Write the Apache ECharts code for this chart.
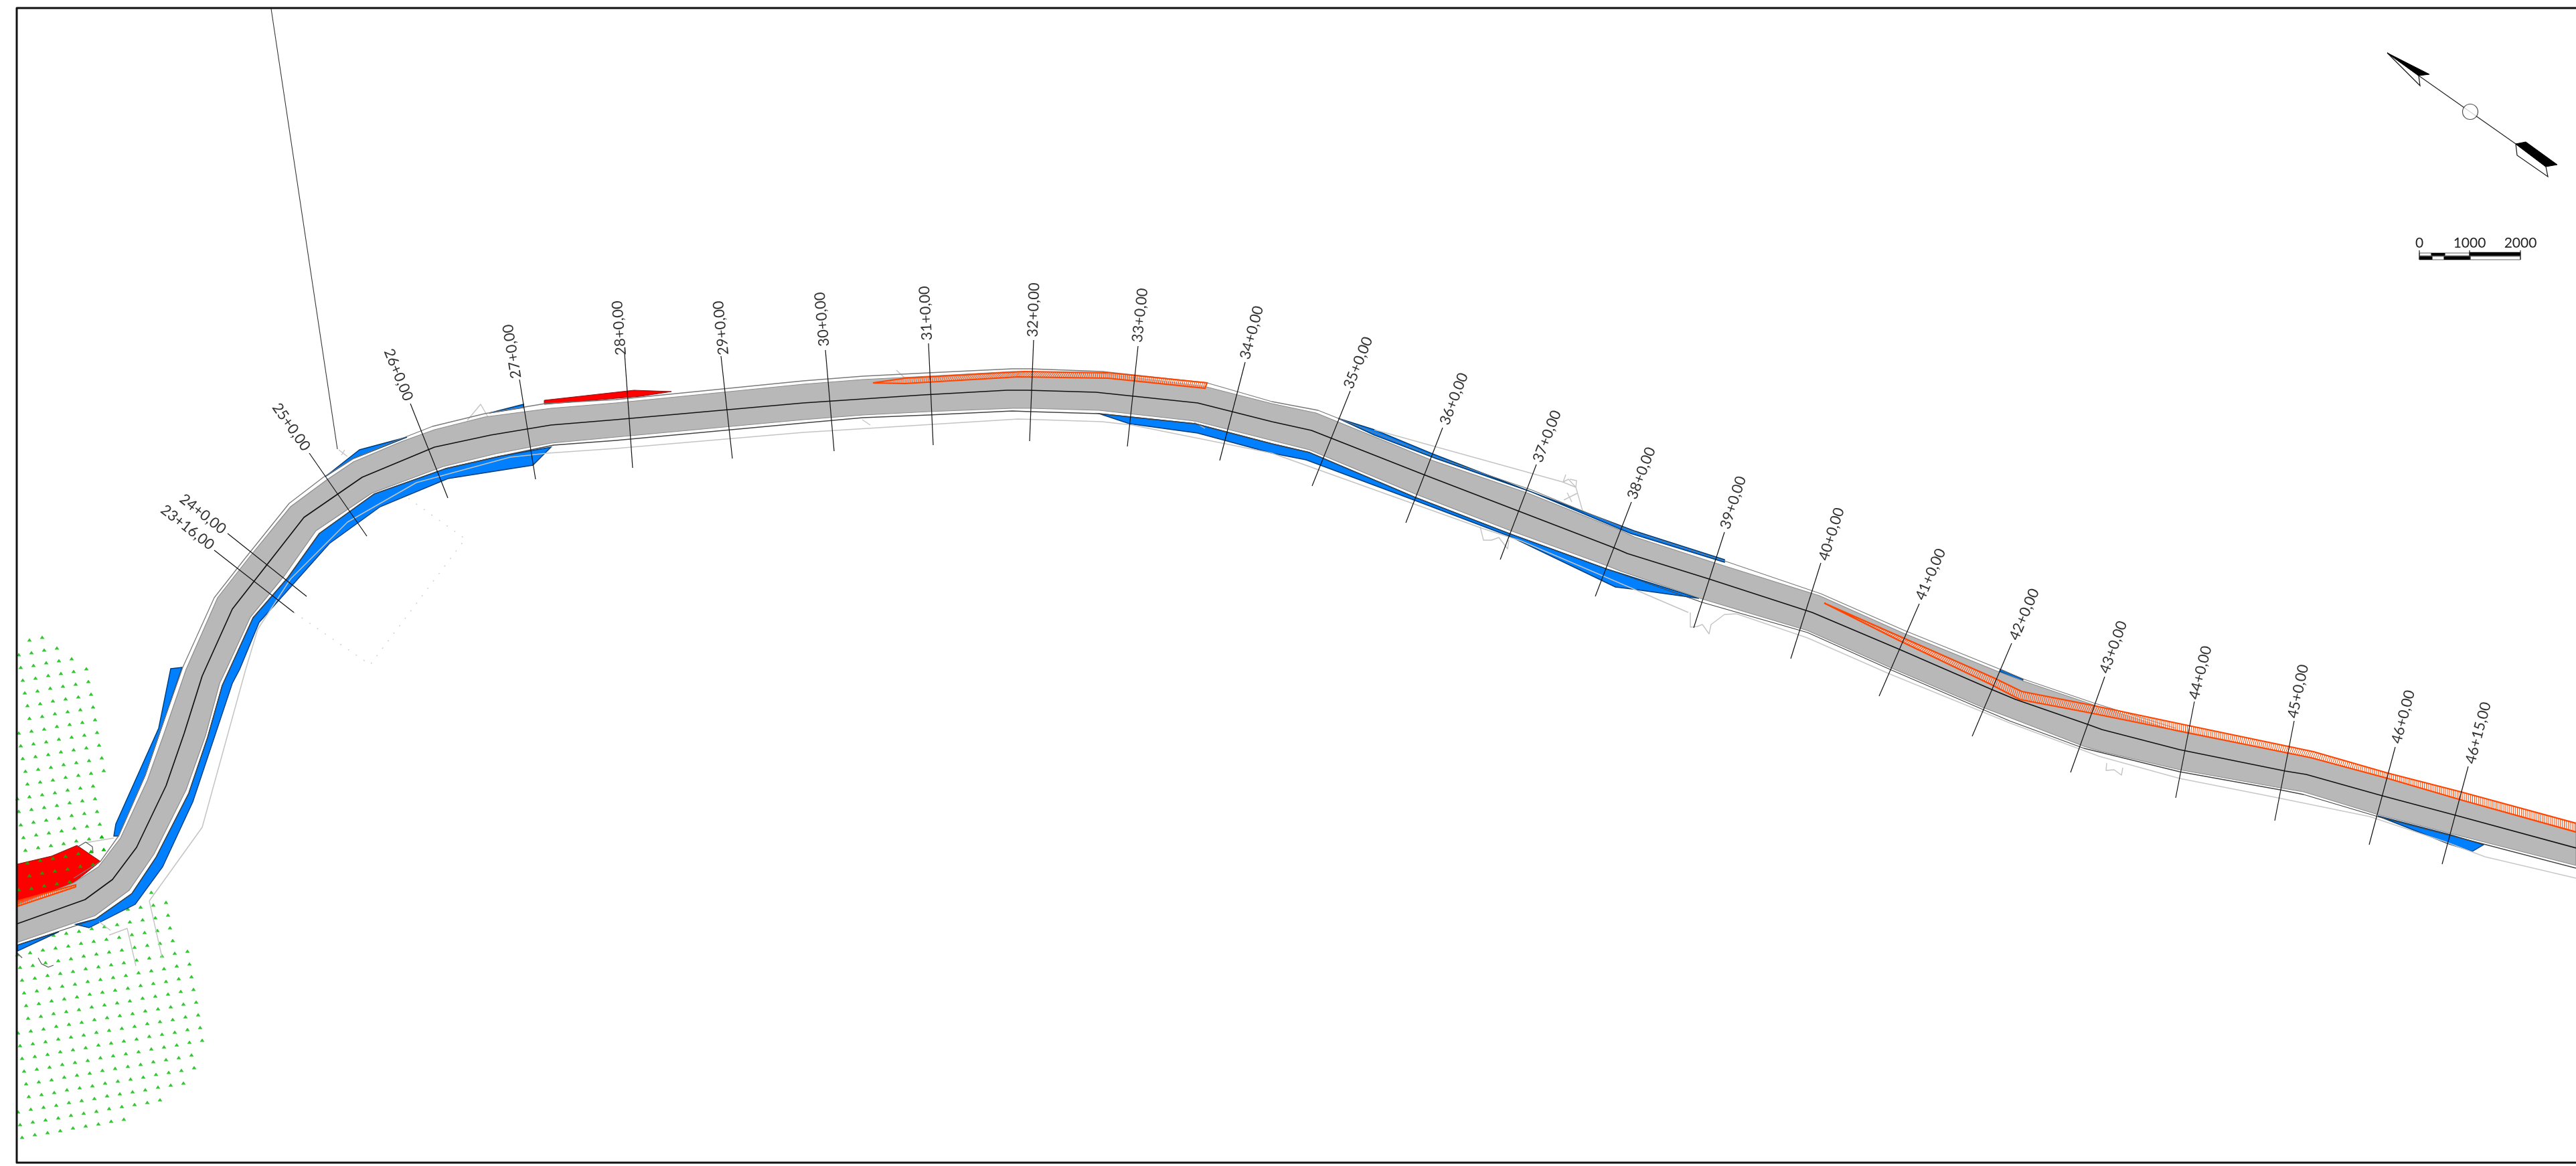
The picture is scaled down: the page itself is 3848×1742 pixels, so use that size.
<!DOCTYPE html>
<html><head><meta charset="utf-8">
<style>html,body{margin:0;padding:0;background:#fff}#c{width:3848px;height:1742px}</style>
<script src="https://cdn.jsdelivr.net/npm/echarts@6/dist/echarts.min.js"></script>
</head><body><div id="c"></div>
<script>
const centerLine=[[26,1380],[127,1344],[168,1314],[204,1266],[248,1174],[275,1096],[302,1010],[347,910],[454,773],[541,713],[649,668],[733,650],[823,635],[920,627],[1200,602],[1379,590],[1504,583],[1535,583],[1637,586],[1789,602],[1900,630],[1959,643],[2124,708],[2267,763],[2410,818],[2431,827],[2553,865],[2707,915],[2837,970],[2975,1030],[3011,1045],[3118,1082],[3140,1090],[3256,1120],[3414,1152],[3445,1157],[3559,1189],[3668,1218],[3848,1267]];
const roadUpper=[[26,1352],[110,1319],[147,1295],[180,1252],[220,1166],[245,1096],[278,1000],[325,893],[372,833],[434,757],[488,717],[528,690],[599,660],[649,642],[724,623],[823,610],[920,602],[1200,574],[1289,567],[1387,562],[1512,555],[1539,555],[1646,558],[1798,577],[1900,603],[1966,617],[2140,688],[2283,737],[2420,792],[2441,802],[2568,843],[2718,890],[2841,945],[2984,1003],[3024,1018],[3127,1053],[3250,1092],[3452,1132],[3567,1163],[3676,1195],[3848,1243]];
const roadLower=[[26,1408],[142,1368],[193,1330],[230,1276],[278,1180],[307,1099],[328,1021],[338,1000],[374,922],[425,860],[472,793],[555,737],[662,697],[740,678],[823,662],[920,653],[1200,627],[1289,620],[1387,615],[1512,610],[1539,610],[1642,613],[1785,629],[1900,658],[1956,672],[2114,738],[2257,793],[2400,845],[2420,853],[2543,895],[2700,942],[2823,997],[2962,1057],[3002,1072],[3113,1115],[3136,1122],[3256,1150],[3406,1177],[3441,1183],[3552,1217],[3660,1245],[3848,1293]];
const outerUpper=[[110,1312],[150,1287],[177,1249],[217,1158],[242,1085],[273,997],[320,893],[367,833],[432,752],[483,713],[528,685],[595,657],[646,637],[724,618],[814,603],[920,597],[1200,569],[1289,562],[1387,557],[1512,551],[1539,551],[1646,555],[1803,572],[1900,600],[1969,613],[2145,683],[2288,732],[2436,793],[2576,838],[2720,887],[2845,942],[2988,1000],[3024,1015],[3127,1050],[3250,1088]];
const outerLower=[[26,1412],[143,1373],[197,1335],[233,1281],[282,1185],[310,1102],[332,1024],[343,1000],[378,923],[430,863],[477,797],[559,738],[666,700],[745,682],[827,665],[920,658],[1200,632],[1289,624],[1387,620],[1512,614],[1539,615],[1642,618],[1785,633],[1900,663],[1956,676],[2114,743],[2257,798],[2400,850],[2543,900],[2700,945],[2823,1000],[2962,1060],[3002,1077],[3113,1118],[3256,1153],[3406,1180],[3441,1187],[3552,1220],[3660,1248],[3848,1297]];
const propertyLine=[[223,1346],[302,1236],[367,1000],[385,940],[434,865],[519,780],[622,721],[762,683],[818,677],[920,670],[1200,646],[1521,626],[1646,630],[1691,635],[1900,677],[2216,790],[2272,808],[2522,915]];
const propertyLine2=[[2594,917],[2700,953],[2823,1007],[3002,1080],[3136,1130],[3256,1163],[3403,1192],[3540,1220],[3651,1257],[3712,1280],[3848,1312]];
const lightMarks=[
[[2053,642],[2334,720],[2354,728],[2364,763]],
[[2339,709],[2335,720],[2343,716],[2354,728],[2355,718],[2345,716]],
[[2341,736],[2348,750]],[[2336,747],[2356,737]],
[[2211,787],[2216,807],[2228,807],[2239,803],[2252,820],[2254,807]],
[[2525,915],[2525,937],[2535,936],[2543,933],[2553,947],[2556,933],[2576,918],[2594,917]],
[[3147,1140],[3146,1151],[3158,1150],[3169,1158],[3171,1147]],
[[506,672],[519,682]],[[510,680],[515,672]],
[[698,628],[718,604],[729,623]],
[[128,1259],[170,1252]],
[[163,1397],[190,1387],[203,1443]],
[[223,1346],[242,1430]],
[[148,1377],[165,1390]],
[[1339,553],[1352,565]],[[1288,627],[1300,635]],[[1783,630],[1800,640]]
];
const dottedBox=[[439,915],[553,993],[695,805],[608,743]];
const darkArcs=[
[[115,1266],[128,1258],[138,1265],[139,1274]],
[[57,1431],[62,1440],[72,1445],[80,1442]],
[[26,1424],[33,1431]]
];
const leader=[[405,13],[504,671]];
const blueShapes=[
[[26,1412],[88,1392],[26,1421]],
[[113,1381],[143,1373],[197,1335],[233,1281],[282,1185],[310,1102],[332,1024],[343,1000],[378,923],[430,863],[477,797],[559,738],[666,700],[745,682],[823,668],[796,695],[669,715],[568,757],[492,812],[387,930],[358,1000],[347,1021],[288,1198],[243,1295],[202,1351],[133,1386]],
[[255,999],[272,997],[242,1085],[217,1158],[177,1249],[170,1249],[173,1231],[237,1088]],
[[486,712],[537,672],[608,653],[528,685]],
[[731,617],[782,604],[782,609]],
[[1642,618],[1687,633],[1789,647],[1900,677],[1951,687],[2112,747],[2257,802],[2413,877],[2438,880],[2538,894],[2400,850],[2257,798],[2114,743],[1956,676],[1900,663],[1785,633]],
[[1999,625],[2053,642],[2140,678],[2280,732],[2441,793],[2576,836],[2576,840],[2436,797],[2288,735],[2145,685],[2053,650]],
[[3552,1219],[3656,1260],[3693,1272],[3710,1262],[3660,1247]],
[[2988,1000],[3022,1015],[3021,1018],[2987,1003]]
];
const redShapes=[
[[26,1291],[77,1279],[115,1263],[150,1287],[110,1319],[26,1352]],
[[813,598],[947,583],[1003,585],[957,592],[813,604]]
];
const stripTops=[
[[1304,572],[1352,565],[1530,555],[1655,557],[1803,572]],
[[2725,901],[2843,953],[2979,1013],[3020,1033],[3127,1054],[3250,1080],[3456,1123],[3567,1155],[3676,1183],[3848,1230]],
[[26,1346],[113,1322]]
];
const stripBottoms=[
[[1304,572],[1352,573],[1521,563],[1655,565],[1800,580]],
[[2725,901],[2837,957],[2975,1023],[3017,1045],[3122,1065],[3250,1091],[3452,1132],[3567,1163],[3676,1195],[3848,1243]],
[[26,1354],[113,1325]]
];
const stationNames=['23+16,00','24+0,00','25+0,00','26+0,00','27+0,00','28+0,00','29+0,00','30+0,00','31+0,00','32+0,00','33+0,00','34+0,00','35+0,00','36+0,00','37+0,00','38+0,00','39+0,00','40+0,00','41+0,00','42+0,00','43+0,00','44+0,00','45+0,00','46+0,00','46+15,00'];
const stationTop=[[320,822],[340,797],[462,677],[613,603],[776,567],[933,528],[1077,532],[1233,523],[1387,513],[1544,508],[1700,517],[1860,541],[2017,584],[2155,639],[2295,694],[2437,750],[2576,795],[2720,841],[2867,902],[3005,961],[3144,1011],[3278,1048],[3427,1077],[3578,1116],[3687,1145]];
const stationBottom=[[439,915],[458,891],[548,801],[669,744],[800,716],[945,699],[1094,685],[1246,674],[1394,665],[1538,659],[1684,667],[1822,688],[1960,726],[2100,781],[2241,836],[2383,891],[2530,938],[2675,984],[2807,1040],[2946,1100],[3093,1154],[3250,1192],[3398,1226],[3539,1262],[3648,1291]];
const labelAt=[[280,788],[303,768],[435,638],[595,560],[765,525],[925,490],[1077,490],[1228,477],[1383,468],[1544,463],[1703,471],[1870,497],[2029,542],[2172,596],[2311,652],[2452,707],[2589,751],[2736,798],[2884,858],[3024,918],[3157,967],[3287,1005],[3433,1033],[3590,1071],[3702,1095]];
const labelAngle=[-38,-38.5,-55,-68,99,94,96,95,93,88,84,75,68,69,69,69,72,72.5,66.5,67,70,76,78,75,75];
const greenUpper=[[44,956],[63,952],[28,978],[47,975],[66,971],[85,968],[31,997],[50,994],[69,990],[88,987],[107,984],[34,1016],[53,1013],[72,1009],[91,1006],[110,1003],[129,999],[37,1035],[56,1032],[75,1028],[94,1025],[113,1022],[132,1018],[41,1054],[60,1051],[79,1047],[98,1044],[117,1041],[136,1037],[44,1073],[63,1070],[82,1066],[101,1063],[120,1060],[139,1056],[28,1095],[47,1092],[66,1089],[85,1085],[104,1082],[123,1079],[142,1075],[31,1114],[50,1111],[69,1108],[88,1104],[107,1101],[126,1098],[145,1094],[34,1133],[53,1130],[72,1127],[91,1123],[110,1120],[129,1117],[148,1113],[38,1152],[57,1149],[76,1146],[95,1142],[114,1139],[133,1136],[152,1132],[41,1171],[60,1168],[79,1165],[98,1161],[117,1158],[136,1155],[155,1151],[26,1193],[44,1190],[63,1187],[82,1184],[101,1180],[120,1177],[139,1174],[28,1212],[47,1209],[66,1206],[85,1203],[104,1199],[123,1196],[142,1193],[31,1232],[50,1228],[69,1225],[88,1222],[107,1218],[126,1215],[145,1212],[35,1251],[54,1247],[73,1244],[92,1241],[111,1237],[130,1234],[149,1231],[38,1270],[57,1266],[76,1263],[95,1260],[114,1256],[133,1253],[152,1250],[41,1289],[60,1285],[79,1282],[98,1279],[117,1275],[136,1272],[155,1269],[44,1308],[63,1304],[82,1301],[101,1298],[120,1294],[139,1291],[28,1329],[47,1327],[66,1323],[85,1320],[104,1317],[123,1313],[142,1310],[31,1349],[51,1345],[70,1342],[89,1338]];
const greenLower=[[223,1314],[207,1336],[226,1333],[172,1362],[191,1358],[210,1355],[229,1352],[248,1348],[80,1397],[99,1394],[118,1391],[137,1387],[156,1384],[175,1381],[194,1377],[213,1374],[232,1371],[251,1367],[26,1426],[45,1423],[64,1419],[83,1416],[102,1413],[121,1409],[140,1406],[159,1403],[178,1400],[197,1396],[216,1393],[235,1390],[254,1386],[30,1445],[49,1442],[68,1438],[87,1435],[106,1432],[125,1428],[144,1425],[163,1422],[182,1419],[201,1415],[220,1412],[239,1409],[258,1405],[33,1464],[52,1461],[71,1457],[90,1454],[109,1451],[128,1447],[147,1444],[166,1441],[185,1438],[204,1434],[223,1431],[242,1428],[261,1424],[280,1421],[36,1483],[55,1480],[74,1476],[93,1473],[112,1470],[131,1466],[150,1463],[169,1460],[188,1457],[207,1453],[226,1450],[245,1447],[264,1443],[283,1440],[39,1502],[58,1499],[77,1495],[96,1492],[115,1489],[134,1485],[153,1482],[172,1479],[191,1476],[210,1472],[229,1469],[248,1466],[267,1462],[286,1459],[42,1521],[61,1518],[80,1514],[99,1511],[118,1508],[137,1504],[156,1501],[175,1498],[194,1495],[213,1491],[232,1488],[251,1485],[270,1481],[289,1478],[27,1543],[46,1540],[65,1537],[84,1533],[103,1530],[122,1527],[141,1523],[160,1520],[179,1517],[198,1514],[217,1510],[236,1507],[255,1504],[274,1500],[293,1497],[30,1562],[49,1559],[68,1556],[87,1552],[106,1549],[125,1546],[144,1542],[163,1539],[182,1536],[201,1533],[220,1529],[239,1526],[258,1523],[277,1519],[296,1516],[33,1581],[52,1578],[71,1575],[90,1571],[109,1568],[128,1565],[147,1561],[166,1558],[185,1555],[204,1552],[223,1548],[242,1545],[261,1542],[280,1538],[299,1535],[36,1600],[55,1597],[74,1594],[93,1590],[112,1587],[131,1584],[150,1580],[169,1577],[188,1574],[207,1571],[226,1567],[245,1564],[264,1561],[283,1557],[302,1554],[39,1619],[58,1616],[77,1613],[96,1609],[115,1606],[134,1603],[153,1599],[172,1596],[191,1593],[210,1590],[229,1586],[248,1583],[267,1580],[286,1576],[43,1638],[62,1635],[81,1632],[100,1628],[119,1625],[138,1622],[157,1618],[176,1615],[195,1612],[214,1609],[233,1605],[252,1602],[271,1599],[290,1595],[27,1661],[46,1657],[65,1654],[84,1651],[103,1647],[122,1644],[141,1641],[160,1637],[179,1634],[198,1631],[217,1628],[236,1624],[255,1621],[274,1618],[30,1680],[49,1676],[68,1673],[87,1670],[106,1666],[125,1663],[144,1660],[163,1656],[182,1653],[201,1650],[220,1647],[239,1643],[33,1699],[52,1695],[71,1692],[90,1689],[109,1685],[128,1682],[147,1679],[166,1675],[185,1672]];
const northBlack=[[[3566,79],[3629,111],[3613,113]],[[3758,215],[3773,212],[3820,246],[3803,249]]];
const northWhite=[[[3566,79],[3613,113],[3615,128]],[[3758,215],[3803,249],[3806,264],[3760,232]]];
const northStem=[[3613,113],[3758,215]];
const northHub=[[3690,167]];
const scaleTicks=[3614,3689,3765];
const scaleNames=['0','1000','2000'];
const scaleBlack=[[[3632,378],[3652,382]],[[3689,377],[3765,382]],[[3614,383],[3633,388]],[[3651,383],[3690,388]]];
const scaleWhite=[[[3614,378],[3632,382]],[[3652,378],[3689,382]],[[3633,383],[3651,388]],[[3690,383],[3765,388]]];
const frame=[[3848,12],[25,12],[25,1737],[3848,1737]];

const GRAY='#b8b8b8',BLUE='#0080ff',RED='#ff0000',ORANGE='#ff4500';
let zi=1;
const series=[];
function poly(pts,fill,stroke,lw){
  series.push({type:'custom',coordinateSystem:'cartesian2d',silent:true,z:zi++,clip:true,animation:false,
    data:pts,renderItem:(p,api)=>{
      if(p.dataIndex!==0)return null;
      return {type:'polygon',shape:{points:pts.map(q=>api.coord(q))},style:{fill:fill,stroke:stroke||null,lineWidth:lw||0}};
    }});
}
function line(pts,color,w,type){
  series.push({type:'line',data:pts,showSymbol:false,symbol:'none',z:zi++,silent:true,animation:false,clip:true,
    lineStyle:{color:color,width:w,type:type||'solid',cap:'butt',join:'round'}});
}
function strip(top,bot){
  series.push({type:'custom',coordinateSystem:'cartesian2d',silent:true,z:zi++,clip:true,animation:false,data:top,
    renderItem:(p,api)=>{
      if(p.dataIndex!==0)return null;
      const T=top.map(q=>api.coord(q)),B=bot.map(q=>api.coord(q)),kids=[];
      kids.push({type:'polygon',shape:{points:T.concat(B.slice().reverse())},style:{fill:'#ffffff',opacity:0.3,stroke:null}});
      for(let i=0;i<T.length-1;i++){
        const L=Math.hypot(T[i+1][0]-T[i][0],T[i+1][1]-T[i][1]),n=Math.max(1,Math.round(L/3));
        for(let k=0;k<n;k++){const t=k/n;
          kids.push({type:'line',shape:{x1:T[i][0]+(T[i+1][0]-T[i][0])*t,y1:T[i][1]+(T[i+1][1]-T[i][1])*t,x2:B[i][0]+(B[i+1][0]-B[i][0])*t,y2:B[i][1]+(B[i+1][1]-B[i][1])*t},style:{stroke:ORANGE,lineWidth:1}});
        }
      }
      kids.push({type:'polygon',shape:{points:T.concat(B.slice().reverse())},style:{fill:'none',stroke:ORANGE,lineWidth:2.2}});
      return {type:'group',children:kids};
    }});
}
function texts(names,at,ang,size,color){
  series.push({type:'custom',coordinateSystem:'cartesian2d',silent:true,z:zi++,clip:false,animation:false,data:at,
    renderItem:(p,api)=>{
      const c=api.coord(at[p.dataIndex]);
      return {type:'text',x:c[0],y:c[1],rotation:(ang?ang[p.dataIndex]:0)*Math.PI/180,
        style:{text:names[p.dataIndex],fill:color,fontFamily:'Lato',fontWeight:400,fontSize:size,textAlign:'center',textVerticalAlign:'middle'}};
    }});
}
series.push({type:'scatter',data:greenUpper.concat(greenLower),symbol:'triangle',symbolSize:[7,5],itemStyle:{color:'#00b800'},z:zi++,silent:true,animation:false});
redShapes.forEach(s=>poly(s,RED,'#8a1010',1));
series.push({type:'scatter',data:greenUpper.slice(-25),symbol:'triangle',symbolSize:[7,5],itemStyle:{color:'#00b800'},z:zi++,silent:true,animation:false});
blueShapes.forEach(s=>poly(s,BLUE,'#003c78',1.4));
line(propertyLine,'#c4c4c4',1.5);
line(propertyLine2,'#c8c8c8',1.5);
lightMarks.forEach(m=>line(m,'#c4c4c4',1.4));
line(dottedBox,'#d0d0d0',1.5,[2,12]);
darkArcs.forEach(m=>line(m,'#555',1.2));
line(outerUpper,'#7a7a7a',1.3);
line(outerLower,'#444',1.3);
poly(roadUpper.concat(roadLower.slice().reverse()),GRAY,'#8c8c8c',1.2);
stripTops.forEach((t,i)=>strip(t,stripBottoms[i]));
line(centerLine,'#111',1.7);
stationTop.forEach((t,i)=>line([t,stationBottom[i]],'#111',1.2));
line(leader,'#333',1.1);
texts(stationNames,labelAt,labelAngle,22,'#333');
northWhite.forEach(s=>poly(s,'#fff','#111',1.2));
northBlack.forEach(s=>poly(s,'#000','#000',1));
line(northStem,'#222',1.2);
series.push({type:'scatter',data:northHub,symbol:'circle',symbolSize:23,itemStyle:{color:'#fff',borderColor:'#222',borderWidth:1.2},z:zi++,silent:true,animation:false});
scaleWhite.forEach(r=>poly([r[0],[r[1][0],r[0][1]],r[1],[r[0][0],r[1][1]]],'#fff','#333',0.8));
scaleBlack.forEach(r=>poly([r[0],[r[1][0],r[0][1]],r[1],[r[0][0],r[1][1]]],'#000','#000',0.6));
scaleTicks.forEach(x=>line([[x,374],[x,388]],'#222',1.2));
texts(scaleNames,scaleTicks.map(x=>[x,363]),null,21,'#222');
line(frame,'#111',3);

const chart=echarts.init(document.getElementById('c'),null,{renderer:'canvas',width:3848,height:1742});
chart.setOption({animation:false,backgroundColor:'#fff',
  grid:{left:0,right:0,top:0,bottom:0},
  xAxis:{type:'value',min:0,max:3848,show:false},
  yAxis:{type:'value',min:0,max:1742,inverse:true,show:false},
  tooltip:{show:false},legend:{show:false},
  series});
</script></body></html>
